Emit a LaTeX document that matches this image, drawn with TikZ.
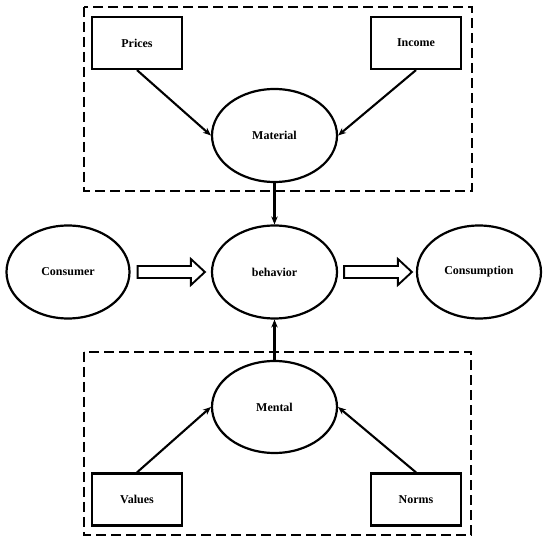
\documentclass[tikz,border=0pt]{standalone}
\usepackage{fontspec}
\setmainfont{Liberation Serif}
\usetikzlibrary{shapes.geometric,arrows.meta,calc}
\begin{document}
\begin{tikzpicture}[x=1pt,y=-1pt,
  every node/.style={font=\fontsize{12}{14}\selectfont\bfseries},
  boxn/.style={draw,line width=2.2pt,minimum width=90pt,minimum height=52pt,inner sep=0pt},
  ell/.style={draw,ellipse,line width=2.2pt,minimum width=125pt,minimum height=93pt,inner sep=0pt},
  conn/.style={line width=2.1pt,-{Stealth[length=8pt,width=6.5pt]}},
  hollow/.style={draw,line width=1.9pt,line join=miter},
  dashbox/.style={draw,line width=2.2pt,dash pattern=on 10pt off 5pt}]
\useasboundingbox (0,0) rectangle (550,545);
% dashed groups
\draw[dashbox] (84,7) rectangle (472,191);
\draw[dashbox] (84,352) rectangle (471,535);
% nodes
\node[boxn] (pri) at (137,43) {Prices};
\node[boxn] (inc) at (416,43) {Income};
\node[ell] (mat) at (274.5,135.5) {Material};
\node[ell,minimum width=123pt] (cons) at (68,272) {Consumer};
\node[ell] (beh) at (274.5,272) {behavior};
\node[ell,minimum width=124pt] (cmp) at (479,272) {Consumption};
\node[ell,minimum height=92pt] (men) at (274.5,407) {Mental};
\node[boxn] (val) at (137,499.5) {Values};
\node[boxn] (nor) at (416,499.5) {Norms};
% connectors
\draw[conn] (pri.south) -- (mat.west);
\draw[conn] (inc.south) -- (mat.east);
\draw[conn] (mat.south) -- (beh.north);
\draw[conn] (men.north) -- (beh.south);
\draw[conn] (val.north) -- (men.west);
\draw[conn] (nor.north) -- (men.east);
% hollow arrows
\coordinate (a1s) at ($(cons.east)+(7,0)$);
\coordinate (a1e) at ($(beh.west)+(-6,0)$);
\coordinate (a2s) at ($(beh.east)+(6,0)$);
\coordinate (a2e) at ($(cmp.west)+(-4,0)$);
\draw[hollow] ($(a1s)+(0,-6)$) -- ($(a1e)+(-14,-6)$) -- ($(a1e)+(-14,-13)$) -- (a1e) -- ($(a1e)+(-14,13)$) -- ($(a1e)+(-14,6)$) -- ($(a1s)+(0,6)$) -- cycle;
\draw[hollow] ($(a2s)+(0,-6)$) -- ($(a2e)+(-14,-6)$) -- ($(a2e)+(-14,-13)$) -- (a2e) -- ($(a2e)+(-14,13)$) -- ($(a2e)+(-14,6)$) -- ($(a2s)+(0,6)$) -- cycle;
\end{tikzpicture}
\end{document}
